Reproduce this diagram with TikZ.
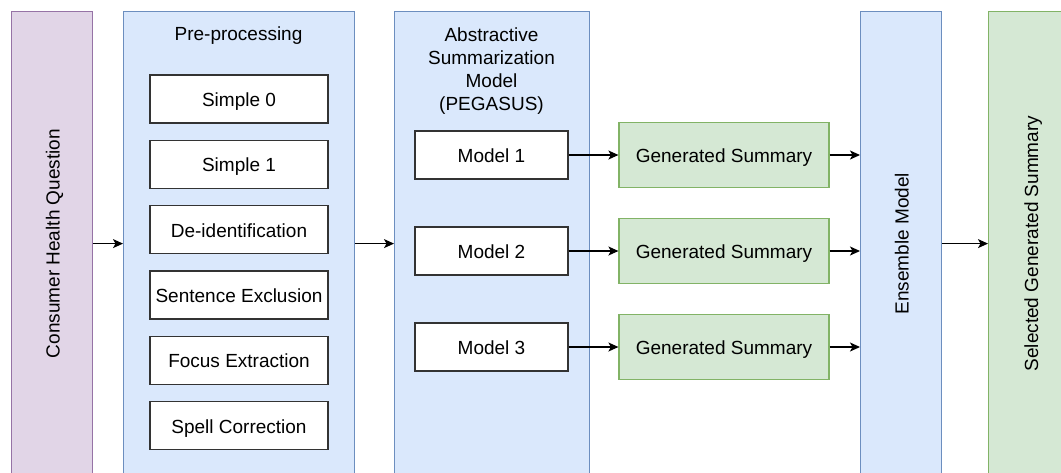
\documentclass[tikz,border=0pt]{standalone}
\usepackage{fontspec}
\setmainfont{Liberation Sans}
\usetikzlibrary{arrows.meta,positioning}

\definecolor{bluefill}{HTML}{DAE8FC}
\definecolor{bluedraw}{HTML}{6C8EBF}
\definecolor{greenfill}{HTML}{D5E8D4}
\definecolor{greendraw}{HTML}{82B366}
\definecolor{purplefill}{HTML}{E1D5E7}
\definecolor{purpledraw}{HTML}{9673A6}

\begin{document}
\begin{tikzpicture}[x=1pt,y=-1pt,
    font=\fontsize{19}{22.8}\selectfont,
    lane/.style={draw, line width=1.2pt, anchor=north west, minimum height=464pt, inner sep=0pt},
    stage/.style={draw=black!80, fill=white, line width=1.3pt, minimum width=178pt, minimum height=48pt,
      inner sep=0pt, text height=15pt, text depth=0pt},
    model/.style={stage, minimum width=153pt},
    summary/.style={draw=greendraw, fill=greenfill, line width=1.2pt, minimum width=210pt, minimum height=65pt,
      inner sep=0pt, text height=15pt, text depth=0pt},
    arr/.style={-{Stealth[length=10pt,width=9pt,inset=2.5pt]}, line width=1.2pt}]
  \useasboundingbox (0,0) rectangle (1061,472);
  \clip (0,0) rectangle (1061,472);

  % columns
  \node[lane, draw=purpledraw, fill=purplefill, minimum width=81pt] (chq) at (11,11) {};
  \node[lane, draw=bluedraw, fill=bluefill, minimum width=231pt] (pre) at (123,11) {};
  \node[lane, draw=bluedraw, fill=bluefill, minimum width=195pt] (abs) at (394,11) {};
  \node[lane, draw=bluedraw, fill=bluefill, minimum width=81pt] (ens) at (860,11) {};
  \node[lane, draw=greendraw, fill=greenfill, minimum width=84pt] (sel) at (988,11) {};

  \node[rotate=90, text height=15pt, text depth=0pt] (chqtext) at (chq.center) {Consumer Health Question};
  \node[rotate=90, text height=15pt, text depth=0pt] (enstext) at (ens.center) {Ensemble Model};
  \node[rotate=90, text height=15pt, text depth=0pt] (seltext) at (sel.center) {Selected Generated Summary};

  % pre-processing steps
  \node (pretitle) at (238.5,36) {Pre-processing};
  \node[stage] (s0) at (239,99) {Simple 0};
  \node[stage, below=16pt of s0] (s1) {Simple 1};
  \node[stage, below=16pt of s1] (deid) {De-identification};
  \node[stage, below=16pt of deid] (sentex) {Sentence Exclusion};
  \node[stage, below=16pt of sentex] (focus) {Focus Extraction};
  \node[stage, below=16pt of focus] (spell) {Spell Correction};

  % summarization models
  \node[align=center] (abstitle) at (491.5,71) {Abstractive\\Summarization\\Model\\(PEGASUS)};
  \node[model] (m1) at (491.5,155) {Model 1};
  \node[model] (m2) at (491.5,251) {Model 2};
  \node[model] (m3) at (491.5,347) {Model 3};

  \node[summary] (gs1) at (724,155) {Generated Summary};
  \node[summary] (gs2) at (724,251) {Generated Summary};
  \node[summary] (gs3) at (724,347) {Generated Summary};

  % connectors
  \draw[arr] (chq.east) -- (pre.west);
  \draw[arr] (pre.east) -- (abs.west);
  \draw[arr] (m1.east) -- (gs1.west);
  \draw[arr] (m2.east) -- (gs2.west);
  \draw[arr] (m3.east) -- (gs3.west);
  \draw[arr] (gs1.east) -- (gs1.east -| ens.west);
  \draw[arr] (gs2.east) -- (gs2.east -| ens.west);
  \draw[arr] (gs3.east) -- (gs3.east -| ens.west);
  \draw[arr] (ens.east) -- (sel.west);
\end{tikzpicture}
\end{document}
